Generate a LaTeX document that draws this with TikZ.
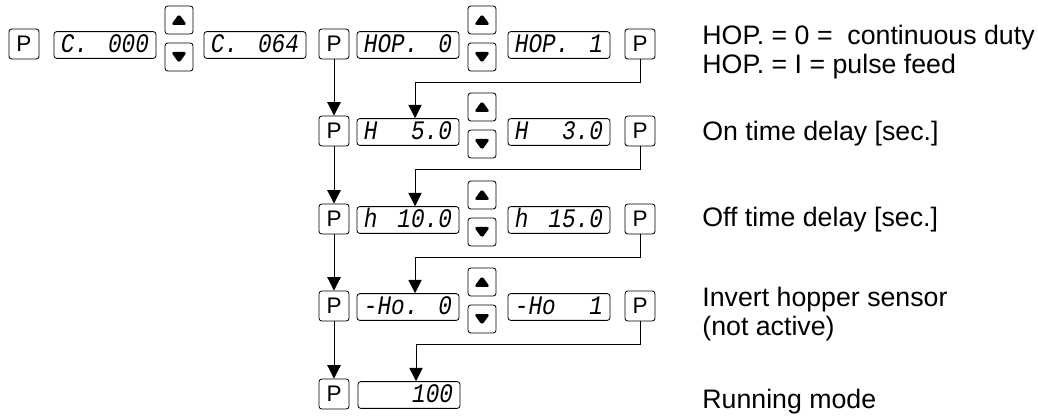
\documentclass[tikz,border=0pt]{standalone}
\usepackage{fontspec}
\setmainfont{Liberation Sans}
\newfontfamily\segfont{Liberation Mono}[FakeStretch=0.85]
\usetikzlibrary{arrows.meta}
\newcommand{\dispval}[2]{\makebox[2.2cm]{#1\hfill#2}}

\begin{document}
\begin{tikzpicture}[x=0.025cm,y=-0.025cm,line width=0.6pt,
	key_node/.style={draw,rounded corners=2pt,minimum size=0.75cm,inner sep=0pt,font=\fontsize{16}{16}\selectfont},
	disp_node/.style={draw,rounded corners=2pt,minimum width=2.55cm,minimum height=0.67cm,text height=13.5pt,text depth=2.5pt,inner sep=0pt,font=\segfont\itshape\fontsize{19}{19}\selectfont},
	up_node/.style={draw,rounded corners=2pt,minimum size=0.7cm,inner sep=0pt,path picture={\fill ([shift={(-8,5)}]path picture bounding box.center) -- ++(16,0) -- ++(-8,-11) -- cycle;}},
	down_node/.style={draw,rounded corners=2pt,minimum size=0.7cm,inner sep=0pt,path picture={\fill ([shift={(-8,-5)}]path picture bounding box.center) -- ++(16,0) -- ++(-8,11) -- cycle;}},
	go_line/.style={-{Triangle[width=9.5pt,length=9.5pt]}},
	info_node/.style={anchor=west,align=left,inner sep=0pt,font=\fontsize{19}{21}\selectfont}]

		\useasboundingbox (0,0) rectangle (1038,419);

		% code entry
		\node[key_node] (p0) at (24,44) {P};
		\node[disp_node] (c0) at (105,45) {\dispval{C.}{000}};
		\node[up_node] (u0) at (179,20) {};
		\node[down_node] (v0) at (179,57) {};
		\node[disp_node] (c1) at (255,45) {\dispval{C.}{064}};

		% left column
		\node[key_node] (l1) at (334,44) {P};
		\node[key_node] (l2) at (334,131) {P};
		\node[key_node] (l3) at (334,219) {P};
		\node[key_node] (l4) at (334,306) {P};
		\node[key_node] (l5) at (334,394) {P};

		\node[disp_node] (a1) at (408,45) {\dispval{HOP.}{0}};
		\node[disp_node] (a2) at (408,132) {\dispval{H}{5.0}};
		\node[disp_node] (a3) at (408,220) {\dispval{h}{10.0}};
		\node[disp_node] (a4) at (408,307) {\dispval{-Ho.}{0}};
		\node[disp_node] (a5) at (409,395) {\dispval{}{100}};

		\node[up_node] (u1) at (482,20) {};
		\node[down_node] (v1) at (482,57) {};
		\node[up_node] (u2) at (482,107) {};
		\node[down_node] (v2) at (482,144) {};
		\node[up_node] (u3) at (482,195) {};
		\node[down_node] (v3) at (482,232) {};
		\node[up_node] (u4) at (482,282) {};
		\node[down_node] (v4) at (482,319) {};

		% right column
		\node[disp_node] (b1) at (559,45) {\dispval{HOP.}{1}};
		\node[disp_node] (b2) at (559,132) {\dispval{H}{3.0}};
		\node[disp_node] (b3) at (559,220) {\dispval{h}{15.0}};
		\node[disp_node] (b4) at (559,307) {\dispval{-Ho}{1}};

		\node[key_node] (r1) at (640,44) {P};
		\node[key_node] (r2) at (640,131) {P};
		\node[key_node] (r3) at (640,219) {P};
		\node[key_node] (r4) at (640,306) {P};

		\draw[go_line] (l1) -- (l2);
		\draw[go_line] (l2) -- (l3);
		\draw[go_line] (l3) -- (l4);
		\draw[go_line] (l4) -- (l5);

		\draw[go_line] (r1.south) -- ++(0,23) -| ([xshift=5pt]a2.north);
		\draw[go_line] (r2.south) -- ++(0,23) -| ([xshift=5pt]a3.north);
		\draw[go_line] (r3.south) -- ++(0,23) -| ([xshift=5pt]a4.north);
		\draw[go_line] (r4.south) -- ++(0,23) -| ([xshift=5pt]a5.north);

		% notes
		\node[info_node] (t1) at (702,52) {HOP. = 0 =\ \ continuous duty\\HOP. = I = pulse feed};
		\node[info_node] (t2) at (702,134) {On time delay [sec.]};
		\node[info_node] (t3) at (702,220) {Off time delay [sec.]};
		\node[info_node] (t4) at (702,314) {Invert hopper sensor\\(not active)};
		\node[info_node] (t5) at (702,402) {Running mode};
\end{tikzpicture}
\end{document}
